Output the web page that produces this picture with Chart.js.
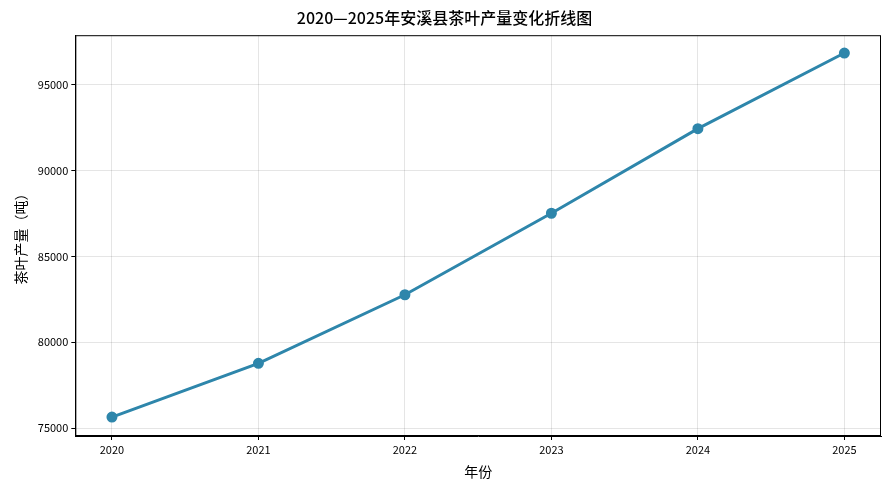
<!DOCTYPE html>
<html><head><meta charset="utf-8">
<script src="https://cdn.jsdelivr.net/npm/chart.js@4/dist/chart.umd.min.js"></script>
<style>html,body{margin:0;padding:0;background:#fff}#w{width:889px;height:490px}</style>
</head><body><div id="w"><canvas id="c"></canvas></div>
<script>
const years = [2020, 2021, 2022, 2023, 2024, 2025];
const output = [75640, 78770, 82770, 87520, 92450, 96860];
const yTicks = [75000, 80000, 85000, 90000, 95000];
const FONT = "'Noto Sans CJK SC','DejaVu Sans',sans-serif";
const frame = {id:'frame', afterDraw(ch){const a=ch.chartArea,c=ch.ctx;c.save();c.strokeStyle='#000';c.lineWidth=1;c.strokeRect(a.left+0.5,a.top+0.5,a.right-a.left-1,a.bottom-a.top-1);c.restore();}};
new Chart(document.getElementById('c'), {
  type:'line',
  data:{datasets:[{data:years.map((y,i)=>({x:y,y:output[i]})),borderColor:'#2E86AB',backgroundColor:'#2E86AB',borderWidth:3,pointRadius:4,pointHoverRadius:4,tension:0}]},
  options:{responsive:true,maintainAspectRatio:false,animation:false,
    layout:{padding:{left:8,right:8,top:4,bottom:6}},
    plugins:{legend:{display:false},tooltip:{enabled:false},
      title:{display:true,text:'2020—2025年安溪县茶叶产量变化折线图',color:'#000',font:{family:FONT,size:16,weight:'500'},padding:{top:4,bottom:8}}},
    scales:{
      x:{type:'linear',min:2019.75,max:2025.25,
        afterBuildTicks:s=>{s.ticks=years.map(v=>({value:v}));},
        ticks:{color:'#000',font:{family:FONT,size:11},callback:v=>String(v)},
        grid:{color:'rgba(0,0,0,0.1)',tickLength:4,tickColor:'#000'},border:{color:'#000'},
        title:{display:true,text:'年份',color:'#000',font:{family:FONT,size:14},padding:{top:4}}},
      y:{min:74536,max:97899,
        afterBuildTicks:s=>{s.ticks=yTicks.map(v=>({value:v}));},
        ticks:{color:'#000',font:{family:FONT,size:11},callback:v=>String(v)},
        grid:{color:'rgba(0,0,0,0.1)',tickLength:4,tickColor:'#000'},border:{color:'#000'},
        title:{display:true,text:'茶叶产量（吨）',color:'#000',font:{family:FONT,size:14},padding:{bottom:6}}}
    }},
  plugins:[frame]
});
</script></body></html>
